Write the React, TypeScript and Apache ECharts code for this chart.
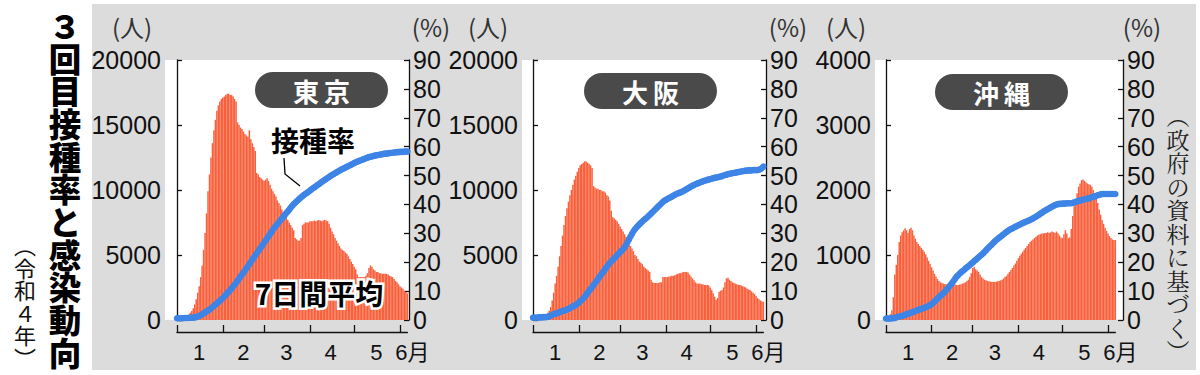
import React, { useEffect, useRef } from 'react';
import * as echarts from 'echarts';

// ---- categories ----
const MONTH_LENGTHS = [31, 28, 31, 30, 31, 6]; // Jan 1 .. Jun 6
const MONTH_LABELS = ['1', '2', '3', '4', '5', '6月'];
const MONTH_LABEL_DAYS = [15, 45, 74, 104, 135, 156];
const MONTH_START_DAYS = [0, 31, 59, 90, 120, 151];
const PANEL_NAMES = ['東京', '大阪', '沖縄'];
const CASE_AXIS_MAX = [20000, 20000, 4000];
const RATE_AXIS_MAX = 90;
const TITLE_TEXT = '３回目接種率と感染動向';
const SUBTITLE_TEXT = '︵令和４年︶';
const NOTE_TEXT = '︵政府の資料に基づく︶';

// ---- 7-day average of new cases (persons) ----
const TOKYO_CASES = [
  60, 70, 80, 100, 130, 170, 220,
  300, 420, 560, 700, 900, 1200, 1600,
  2100, 2600, 3300, 4200, 5400, 6700, 8200,
  9900, 11200, 12500, 13600, 14600, 15400, 16100,
  16500, 16800, 17000, 17100, 17200, 17300, 17400,
  17400, 17300, 17300, 17200, 17000, 16800, 15200,
  15000, 14800, 14700, 14500, 14300, 14200, 14100,
  14600, 13900, 13600, 13300, 13000, 11300, 11200,
  11000, 10900, 10800, 10700, 10800, 10900, 10700,
  10400, 10100, 9900, 9700, 9500, 9200, 9000,
  8800, 8500, 8300, 8100, 7900, 7700, 7500,
  7300, 7100, 6900, 6300, 6200, 6100, 6100,
  6300, 7300, 7400, 7500, 7500, 7500, 7600,
  7600, 7600, 7650, 7600, 7650, 7700, 7650,
  7600, 7650, 7700, 7650, 7600, 7400, 7100,
  6800, 6600, 6300, 6100, 5900, 5700, 5500,
  5400, 5300, 5200, 5100, 4900, 4700, 4500,
  4300, 4100, 3900, 3500, 3300, 3300, 3300,
  3300, 3300, 3400, 3600, 4000, 4200, 4100,
  3900, 3800, 3700, 3700, 3600, 3600, 3550,
  3550, 3550, 3550, 3500, 3400, 3350, 3300,
  3150, 3000, 2900, 2750, 2600, 2500, 2400,
  2250, 2150, 2050,
];
const OSAKA_CASES = [
  40, 50, 60, 80, 100, 140, 190,
  250, 330, 430, 560, 720, 1000, 1500,
  2100, 2800, 3400, 4100, 4900, 5700, 6500,
  7300, 8000, 8600, 9100, 9600, 10000, 10400,
  10800, 11100, 11400, 11700, 11900, 12000, 12100,
  12200, 12200, 12100, 12000, 11900, 11700, 10300,
  10200, 10100, 10100, 10000, 10000, 9900, 9900,
  9800, 9600, 9500, 9200, 8400, 7900, 7800,
  7700, 7600, 7400, 7200, 7000, 6800, 6600,
  6400, 6200, 6000, 5700, 5500, 5300, 5000,
  4900, 4700, 4500, 4400, 4300, 4100, 4000,
  3900, 3800, 3700, 3100, 2900, 2850, 2850,
  2850, 2850, 2900, 2900, 3300, 3300, 3300,
  3300, 3350, 3350, 3400, 3400, 3450, 3500,
  3550, 3600, 3600, 3650, 3700, 3700, 3700,
  3650, 3500, 3350, 3200, 3050, 2900, 2800,
  2800, 2800, 2750, 2750, 2700, 2700, 2700,
  2650, 2500, 2300, 2050, 1800, 1550, 1700,
  2150, 2250, 2300, 2500, 2900, 3200, 3250,
  3100, 3000, 2900, 2850, 2800, 2750, 2700,
  2700, 2650, 2600, 2550, 2500, 2400, 2350,
  2300, 2200, 2100, 2000, 1850, 1700, 1600,
  1500, 1450, 1400,
];
const OKINAWA_CASES = [
  20, 30, 50, 90, 150, 350, 700,
  850, 1000, 1200, 1300, 1350, 1380, 1410,
  1380, 1340, 1400, 1420, 1380, 1300, 1250,
  1200, 1170, 1140, 1110, 1080, 1050, 1010,
  960, 910, 860, 810, 760, 710, 670,
  630, 600, 580, 570, 560, 555, 550,
  545, 540, 540, 545, 550, 545, 540,
  540, 545, 550, 560, 570, 580, 600,
  620, 660, 720, 800, 820, 780, 760,
  740, 700, 660, 640, 620, 610, 600,
  595, 590, 590, 585, 590, 590, 595,
  600, 610, 620, 640, 660, 680, 710,
  740, 770, 800, 840, 870, 910, 950,
  990, 1020, 1050, 1080, 1110, 1140, 1170,
  1200, 1220, 1240, 1260, 1280, 1300, 1310,
  1320, 1330, 1330, 1340, 1340, 1350, 1340,
  1350, 1360, 1350, 1340, 1360, 1330, 1300,
  1270, 1260, 1320, 1380, 1330, 1260, 1270,
  1400, 1600, 1750, 1850, 1950, 2050, 2100,
  2150, 2160, 2140, 2120, 2100, 2090, 2080,
  2050, 2000, 1950, 1870, 1800, 1700, 1620,
  1540, 1480, 1420, 1370, 1330, 1290, 1260,
  1240, 1230, 1230,
];

// ---- 3rd-dose vaccination rate (%) ----
const TOKYO_RATE = [
  0.6, 0.6, 0.6, 0.6, 0.6, 0.7, 0.7,
  0.7, 0.7, 0.8, 0.8, 0.8, 0.9, 1.0,
  1.2, 1.4, 1.7, 2.0, 2.3, 2.6, 3.0,
  3.3, 3.6, 4.0, 4.5, 4.9, 5.3, 5.8,
  6.2, 6.7, 7.1, 7.6, 8.1, 8.7, 9.3,
  9.8, 10.4, 11.0, 11.6, 12.3, 12.9, 13.6,
  14.3, 15.0, 15.7, 16.4, 17.1, 17.9, 18.6,
  19.3, 20.1, 20.9, 21.6, 22.3, 23.1, 23.8,
  24.6, 25.3, 26.0, 26.8, 27.5, 28.3, 29.0,
  29.8, 30.5, 31.3, 32.0, 32.6, 33.2, 33.9,
  34.5, 35.1, 35.7, 36.4, 37.0, 37.6, 38.2,
  38.9, 39.5, 40.1, 40.6, 41.1, 41.5, 42.0,
  42.5, 42.9, 43.3, 43.7, 44.0, 44.4, 44.8,
  45.2, 45.6, 45.9, 46.3, 46.7, 47.0, 47.4,
  47.8, 48.1, 48.5, 48.8, 49.2, 49.5, 49.9,
  50.2, 50.5, 50.8, 51.1, 51.4, 51.7, 52.0,
  52.3, 52.5, 52.8, 53.0, 53.3, 53.5, 53.8,
  54.1, 54.3, 54.6, 54.8, 55.0, 55.2, 55.4,
  55.6, 55.8, 56.0, 56.2, 56.4, 56.5, 56.6,
  56.8, 56.9, 57.0, 57.1, 57.2, 57.3, 57.4,
  57.5, 57.6, 57.6, 57.7, 57.8, 57.8, 57.9,
  58.0, 58.0, 58.1, 58.1, 58.2, 58.2, 58.2,
  58.3, 58.3, 58.3,
];
const OSAKA_RATE = [
  0.8, 0.8, 0.8, 0.8, 0.9, 0.9, 0.9,
  1.0, 1.0, 1.0, 1.1, 1.2, 1.5, 1.8,
  2.0, 2.2, 2.3, 2.5, 2.7, 2.9, 3.1,
  3.2, 3.4, 3.6, 3.8, 4.1, 4.4, 4.7,
  4.9, 5.2, 5.6, 6.0, 6.5, 7.0, 7.5,
  8.1, 8.7, 9.4, 10.1, 10.8, 11.4, 12.1,
  12.8, 13.5, 14.2, 14.9, 15.6, 16.3, 17.0,
  17.7, 18.4, 19.1, 19.8, 20.3, 20.8, 21.4,
  21.9, 22.4, 23.0, 23.5, 24.0, 24.5, 25.2,
  26.0, 27.0, 27.9, 28.9, 29.8, 30.7, 31.4,
  32.0, 32.6, 33.1, 33.6, 34.1, 34.6, 35.0,
  35.4, 35.9, 36.4, 36.9, 37.4, 37.9, 38.4,
  38.9, 39.4, 39.9, 40.4, 40.9, 41.3, 41.6,
  41.9, 42.2, 42.4, 42.7, 43.0, 43.3, 43.6,
  43.8, 44.0, 44.2, 44.4, 44.7, 45.0, 45.3,
  45.6, 45.9, 46.2, 46.5, 46.7, 47.0, 47.2,
  47.4, 47.6, 47.8, 48.0, 48.2, 48.3, 48.5,
  48.6, 48.8, 48.9, 49.1, 49.2, 49.3, 49.4,
  49.5, 49.7, 49.8, 50.0, 50.2, 50.3, 50.5,
  50.6, 50.7, 50.8, 50.9, 51.0, 51.1, 51.2,
  51.3, 51.4, 51.5, 51.6, 51.7, 51.7, 51.8,
  51.8, 51.8, 51.9, 51.9, 51.9, 51.9, 52.0,
  52.2, 52.6, 53.1,
];
const OKINAWA_RATE = [
  0.5, 0.5, 0.5, 0.5, 0.6, 0.6, 0.7,
  0.9, 1.1, 1.2, 1.3, 1.4, 1.6, 1.8,
  2.0, 2.2, 2.3, 2.5, 2.7, 2.9, 3.1,
  3.3, 3.5, 3.7, 3.9, 4.0, 4.2, 4.4,
  4.6, 4.9, 5.2, 5.5, 5.9, 6.4, 6.9,
  7.4, 7.9, 8.4, 8.8, 9.2, 9.8, 10.4,
  11.0, 11.6, 12.2, 12.9, 13.6, 14.3, 15.0,
  15.5, 16.0, 16.5, 16.9, 17.3, 17.8, 18.2,
  18.6, 19.0, 19.5, 19.9, 20.4, 20.8, 21.3,
  21.7, 22.2, 22.6, 23.1, 23.6, 24.1, 24.7,
  25.2, 25.7, 26.2, 26.7, 27.2, 27.7, 28.1,
  28.5, 28.9, 29.3, 29.7, 30.1, 30.5, 30.9,
  31.2, 31.5, 31.7, 32.0, 32.3, 32.5, 32.8,
  33.0, 33.3, 33.5, 33.8, 34.0, 34.2, 34.4,
  34.6, 34.9, 35.2, 35.5, 35.8, 36.1, 36.4,
  36.8, 37.1, 37.5, 37.8, 38.1, 38.4, 38.7,
  39.0, 39.3, 39.5, 39.8, 40.0, 40.1, 40.2,
  40.2, 40.3, 40.3, 40.3, 40.4, 40.4, 40.4,
  40.4, 40.5, 40.7, 40.9, 41.0, 41.2, 41.4,
  41.5, 41.6, 41.8, 41.9, 42.0, 42.1, 42.3,
  42.5, 42.7, 42.8, 43.0, 43.2, 43.3, 43.5,
  43.6, 43.6, 43.6, 43.6, 43.6, 43.6, 43.6,
  43.6, 43.6, 43.6,
];

const CASES = [TOKYO_CASES, OSAKA_CASES, OKINAWA_CASES];
const RATES = [TOKYO_RATE, OSAKA_RATE, OKINAWA_RATE];

// ---- layout / style ----
const LAYOUT = [
  { plotL: 165, plotR: 409, jan1: 177, jun1: 400, pillX: 255, pillY: 72, unitL: 132, unitR: 431 },
  { plotL: 522, plotR: 766, jan1: 533, jun1: 756, pillX: 584, pillY: 73, unitL: 488, unitR: 788 },
  { plotL: 875, plotR: 1123, jan1: 886, jun1: 1108, pillX: 935, pillY: 74, unitL: 846, unitR: 1142 },
];
const PLOT_TOP = 60;
const PLOT_BOTTOM = 320;
const XAXIS_Y = 332;
const ORANGE = '#f8603c';
const BLUE = '#3d84e6';
const GRAY = '#dcdcdc';
const PILL = '#4a4a4a';
const CJK = "'Noto Sans CJK JP', 'Noto Sans', sans-serif";
const NUM = "'Liberation Sans Narrow', 'Arial Narrow', 'Liberation Sans', sans-serif";
const NUMX = "'Liberation Sans', 'Noto Sans CJK JP', sans-serif";

const DATES: string[] = [];
MONTH_LENGTHS.forEach((len, m) => {
  for (let d = 1; d <= len; d++) DATES.push(`${m + 1}/${d}`);
});

function verticalText(
  text: string, cx: number, top: number, step: number, style: Record<string, any>,
) {
  return text.split('').map((ch, k) => ({
    type: 'text', z: 60, silent: true, x: cx, y: top + step * (k + 0.5),
    style: { ...style, text: ch, lineHeight: step - 1, textAlign: 'center', textVerticalAlign: 'middle' },
  }));
}

function buildOption() {
  const grid: any[] = [];
  const xAxis: any[] = [];
  const yAxis: any[] = [];
  const series: any[] = [];
  const graphic: any[] = [];

  graphic.push({
    type: 'rect', z: -100, silent: true,
    shape: { x: 92, y: 4, width: 1104, height: 366 },
    style: { fill: GRAY },
  });

  LAYOUT.forEach((L, i) => {
    const ppd = (L.jun1 - L.jan1) / 151;
    const lastDay = DATES.length - 1;
    grid.push({
      left: L.plotL, width: L.plotR - L.plotL, top: PLOT_TOP, height: PLOT_BOTTOM - PLOT_TOP,
      show: true, backgroundColor: '#ffffff', borderWidth: 0,
    });
    grid.push({
      left: L.jan1, width: lastDay * ppd, top: XAXIS_Y - 1, height: 1, show: false,
    });
    xAxis.push({
      gridIndex: 2 * i, type: 'value', show: false,
      min: (L.plotL - L.jan1) / ppd, max: (L.plotR - L.jan1) / ppd,
    });
    xAxis.push({
      gridIndex: 2 * i + 1, type: 'category', data: DATES, boundaryGap: false,
      axisLine: { show: true, lineStyle: { color: '#111', width: 1.3 } },
      axisTick: {
        show: true, inside: true, length: 7,
        interval: (idx: number) => MONTH_START_DAYS.includes(idx),
        lineStyle: { color: '#111', width: 1.3 },
      },
      axisLabel: {
        show: true,
        interval: (idx: number) => MONTH_LABEL_DAYS.includes(idx),
        formatter: (_v: string, idx: number) => {
          const k = MONTH_LABEL_DAYS.indexOf(idx);
          if (k < 0) return '';
          return k === MONTH_LABELS.length - 1 ? `{m|${MONTH_LABELS[k]}}` : MONTH_LABELS[k];
        },
        margin: 9, fontSize: 22, fontFamily: NUMX, color: '#111',
        rich: { m: { fontSize: 22, fontFamily: NUMX, color: '#111', padding: [0, 0, 0, 10] } },
      },
      splitLine: { show: false },
    });
    const axisLabelBase = {
      fontSize: 25, fontFamily: NUM, color: '#111', margin: 4,
      formatter: (v: number) => String(v),
    };
    yAxis.push({
      gridIndex: 2 * i, type: 'value', position: 'left', min: 0, max: CASE_AXIS_MAX[i],
      interval: CASE_AXIS_MAX[i] / 4,
      axisLine: { show: true, lineStyle: { color: '#111', width: 1.3 } },
      axisTick: { show: true, inside: true, length: 5, lineStyle: { color: '#111', width: 1.3 } },
      splitLine: { show: false },
      axisLabel: { ...axisLabelBase },
    });
    yAxis.push({
      gridIndex: 2 * i, type: 'value', position: 'right', min: 0, max: RATE_AXIS_MAX, interval: 10,
      axisLine: { show: true, lineStyle: { color: '#111', width: 1.3 } },
      axisTick: { show: true, inside: true, length: 5, lineStyle: { color: '#111', width: 1.3 } },
      splitLine: { show: false },
      axisLabel: { ...axisLabelBase },
    });
    yAxis.push({ gridIndex: 2 * i + 1, type: 'value', show: false });

    series.push({
      type: 'bar', xAxisIndex: 2 * i, yAxisIndex: 3 * i, silent: true,
      barWidth: ppd,
      data: CASES[i].map((v, d) => [d, v]),
      itemStyle: { color: ORANGE },
      z: 2,
    });
    series.push({
      type: 'line', xAxisIndex: 2 * i, yAxisIndex: 3 * i + 1, silent: true,
      data: RATES[i].map((v, d) => [d, v]),
      symbol: 'circle', symbolSize: 6.5, showSymbol: true,
      lineStyle: { color: BLUE, width: 4.5 },
      itemStyle: { color: BLUE },
      z: 3,
    });
    series.push({ type: 'line', xAxisIndex: 2 * i + 1, yAxisIndex: 3 * i + 2, data: [], silent: true });

    // pill title
    graphic.push({
      type: 'rect', z: 50, silent: true,
      shape: { x: L.pillX, y: L.pillY, width: 133, height: 36, r: 18 },
      style: { fill: PILL },
    });
    graphic.push({
      type: 'text', z: 51, silent: true, x: L.pillX + 66.5, y: L.pillY + 18,
      style: {
        text: PANEL_NAMES[i].split('').join('\u2009'), fill: '#fff', fontSize: 26, fontWeight: 'bold',
        fontFamily: CJK, textAlign: 'center', textVerticalAlign: 'middle',
      },
    });
    // units
    graphic.push({
      type: 'text', z: 51, silent: true, x: L.unitL, y: 26,
      style: { text: '(人)', fill: '#333', fontSize: 24, fontFamily: CJK, textAlign: 'center', textVerticalAlign: 'middle' },
    });
    graphic.push({
      type: 'text', z: 51, silent: true, x: L.unitR, y: 26,
      style: { text: '(%)', fill: '#333', fontSize: 24, fontFamily: CJK, textAlign: 'center', textVerticalAlign: 'middle' },
    });
  });

  // vertical main title
  graphic.push(...verticalText(TITLE_TEXT, 65, 8, 32.7, {
    fill: '#000', fontSize: 32.5, fontWeight: 900, fontFamily: CJK,
  }));
  graphic.push(...verticalText(SUBTITLE_TEXT, 25, 233, 22.5, {
    fill: '#111', fontSize: 22, fontFamily: CJK,
  }));
  // source note (vertical)
  graphic.push(...verticalText(NOTE_TEXT, 1178, 104, 23.5, {
    fill: '#222', fontSize: 23, fontFamily: "'Noto Serif CJK JP', " + CJK,
  }));
  // annotations (Tokyo)
  graphic.push({
    type: 'text', z: 60, silent: true, x: 313, y: 140,
    style: {
      text: '接種率', fill: '#000', fontSize: 28, fontWeight: 'bold', fontFamily: CJK,
      textAlign: 'center', textVerticalAlign: 'middle',
    },
  });
  graphic.push({
    type: 'polyline', z: 60, silent: true,
    shape: { points: [[284, 158], [285, 174], [300, 186]] },
    style: { stroke: '#000', lineWidth: 1.3, fill: 'none' },
  });
  graphic.push({
    type: 'text', z: 60, silent: true, x: 319, y: 293,
    style: {
      text: '7日間平均', fill: '#000', fontSize: 28, fontWeight: 'bold', fontFamily: CJK,
      stroke: '#fff', lineWidth: 5, textAlign: 'center', textVerticalAlign: 'middle',
    },
  });

  return {
    animation: false,
    backgroundColor: '#ffffff',
    grid, xAxis, yAxis, series, graphic,
  };
}

export default function App() {
  const ref = useRef<HTMLDivElement>(null);
  useEffect(() => {
    if (!ref.current) return;
    const chart = echarts.init(ref.current, undefined, { renderer: 'svg' });
    chart.setOption(buildOption() as any);
    return () => chart.dispose();
  }, []);
  return (
    <div
      ref={ref}
      style={{ position: 'absolute', left: 0, top: 0, width: 1200, height: 375 }}
    />
  );
}
